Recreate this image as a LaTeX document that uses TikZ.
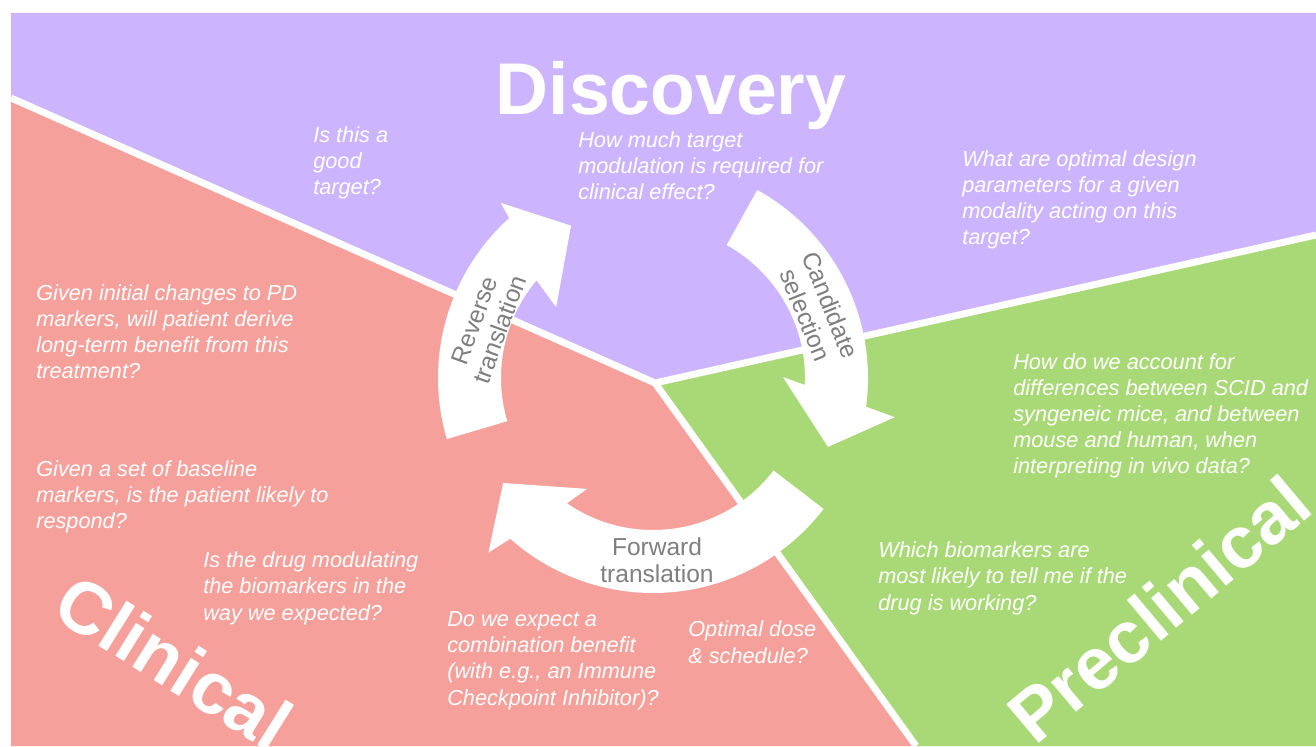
\documentclass[tikz,border=0pt]{standalone}
\usepackage{fontspec}
\setmainfont{Liberation Sans}
\usepackage{tikz}
\usetikzlibrary{calc}

\definecolor{discpurple}{RGB}{205,180,254}
\definecolor{clinred}{RGB}{245,160,154}
\definecolor{precgreen}{RGB}{169,217,118}
\definecolor{labelgray}{RGB}{127,127,127}

\tikzset{
  question/.style={anchor=base west, inner sep=0pt, align=left, text=white,
    font=\fontsize{16.3}{19.6}\selectfont\itshape},
  phase/.style={inner sep=0pt, text=white, font=\fontsize{55}{60}\selectfont\bfseries},
  arrowlabel/.style={inner sep=0pt, align=center, text=labelgray,
    font=\fontsize{18.4}{20.2}\selectfont},
  gap/.style={draw=white, line width=5.2pt}
}

\begin{document}
\begin{tikzpicture}[x=0.75pt, y=0.75pt]
            \useasboundingbox (0,0) rectangle (1316,746);
            \clip (11,0) rectangle (1316,733);
            % Define points
            \coordinate (TL) at (11,733);
            \coordinate (TR) at (1316,733);
            \coordinate (BL) at (11,0);
            \coordinate (BR) at (1316,0);
            \coordinate (hub) at (655,363);
            \coordinate (leftend) at (11,648);
            \coordinate (rightend) at (1316,511);
            \coordinate (bottomend) at (916,0);
            \coordinate (ctr) at (653,368);
            % Phase areas
            \fill[discpurple] (TL) -- (TR) -- (rightend) -- (hub) -- (leftend) -- cycle;
            \fill[clinred] (leftend) -- (hub) -- (bottomend) -- (BL) -- cycle;
            \fill[precgreen] (hub) -- (rightend) -- (BR) -- (bottomend) -- cycle;
            \draw[gap] (leftend) -- (hub) -- (rightend);
            \draw[gap] (hub) -- (bottomend);
            % Cycle arrows
            \fill[white, shift={(ctr)}] (196.5:215) arc[start angle=196.5, end angle=132, radius=215]
              -- (131:232) -- (118.3:173) -- (143.8:120) -- (140:152)
              arc[start angle=140, end angle=196.5, radius=152] -- cycle;
            \fill[white, shift={(ctr)}] (61:215) arc[start angle=61, end angle=-7.7, radius=215]
              -- (-9.2:245) -- (-21.5:188) -- (0.4:130) -- (-2.6:152)
              arc[start angle=-2.6, end angle=61, radius=152] -- cycle;
            \fill[white, shift={(ctr)}] (-37.5:215) arc[start angle=-37.5, end angle=-131.6, radius=215]
              -- (-133.3:240) -- (-145:183) -- (-120.7:129) -- (-124.5:152)
              arc[start angle=-124.5, end angle=-37.5, radius=152] -- cycle;
            \node[arrowlabel, rotate=70] (reverse) at (487,421) {Reverse\\translation};
            \node[arrowlabel, rotate=-68] (candidate) at (818,436) {Candidate\\selection};
            \node[arrowlabel] (forward) at (657,186) {Forward\\translation};
            % Phase titles
            \node[phase, anchor=base] (discovery) at (671,631) {Discovery};
            \node[phase, rotate=-32] (clinical) at (174,84) {Clinical};
            \node[phase, rotate=40] (preclinical) at (1159,137) {Preclinical};
            % Questions (anchored on the last line)
            \node[question] (goodtarget) at (313,551) {Is this a\\good\\target?};
            \node[question] (howmuch) at (578,546) {How much target\\modulation is required for\\clinical effect?};
            \node[question] (design) at (962,501) {What are optimal design\\parameters for a given\\modality acting on this\\target?};
            \node[question] (pdmarkers) at (36,367) {Given initial changes to PD\\markers, will patient derive\\long-term benefit from this\\treatment?};
            \node[question] (respond) at (36,217) {Given a set of baseline\\markers, is the patient likely to\\respond?};
            \node[question] (modulating) at (203,126) {Is the drug modulating\\the biomarkers in the\\way we expected?};
            \node[question] (combination) at (447,41) {Do we expect a\\combination benefit\\(with e.g., an Immune\\Checkpoint Inhibitor)?};
            \node[question] (dose) at (688,83) {Optimal dose\\\& schedule?};
            \node[question] (scid) at (1013,272) {How do we account for\\differences between SCID and\\syngeneic mice, and between\\mouse and human, when\\interpreting in vivo data?};
            \node[question] (whichbio) at (878,136) {Which biomarkers are\\most likely to tell me if the\\drug is working?};
\end{tikzpicture}
\end{document}
